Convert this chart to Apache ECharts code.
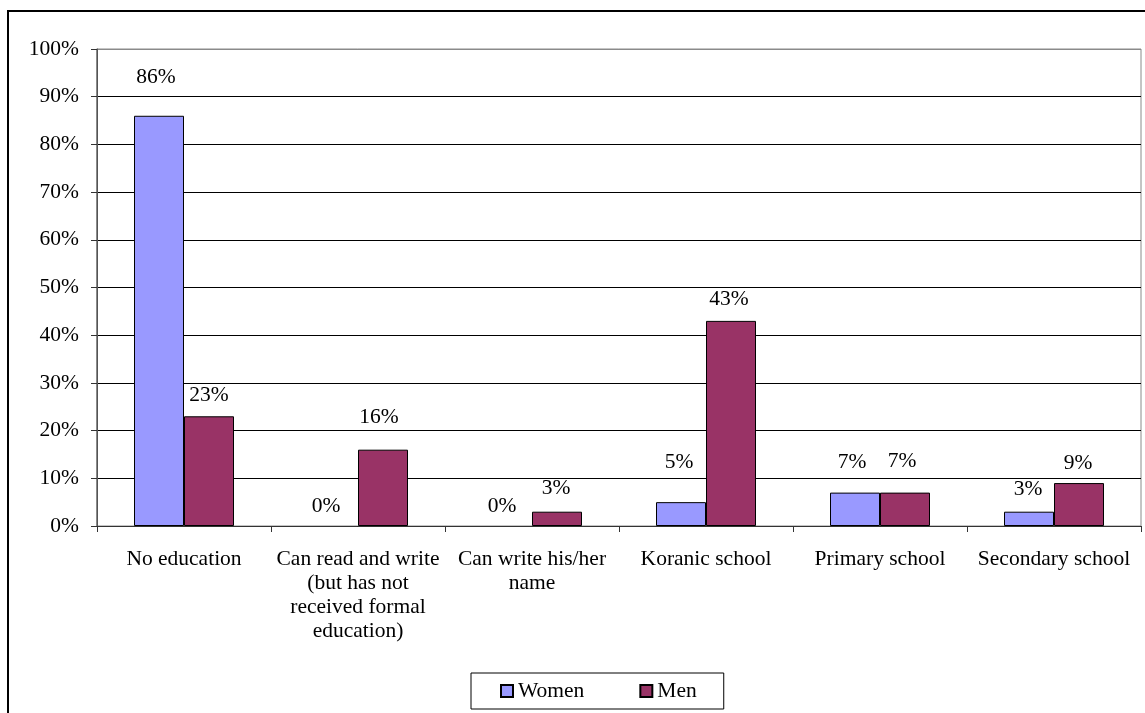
<!DOCTYPE html>
<html>
<head>
<meta charset="utf-8">
<script src="https://cdn.jsdelivr.net/npm/echarts@6/dist/echarts.min.js"></script>
<style>
html,body{margin:0;padding:0;background:#fff;}
#chart{width:1145px;height:713px;}
</style>
</head>
<body>
<div id="chart"></div>
<script>
const categories = [
  'No education',
  'Can read and write\n(but has not\nreceived formal\neducation)',
  'Can write his/her\nname',
  'Koranic school',
  'Primary school',
  'Secondary school'
];
const women = [86, 0, 0, 5, 7, 3];
const men = [23, 16, 3, 43, 7, 9];
const yTicks = [0, 10, 20, 30, 40, 50, 60, 70, 80, 90, 100];

// label placement tweaks (style only)
const womenLabelDist = [27, 9, 9, 29, 19, 11];
const menLabelDist = [10, 21, 12, 11, 20, 9];
const womenLabelDx = [-3, -7, -5, -2, -3, -1];
const menLabelDx = [0, -4, -1, -2, -3, -1];

const FONT = 'Liberation Serif';
const FS = 21.5;

function buildSeriesData(vals, dists, dxs) {
  return vals.map((v, i) => ({
    value: v,
    itemStyle: v === 0 ? { borderWidth: 0, borderColor: 'rgba(0,0,0,0)', color: 'rgba(0,0,0,0)' } : undefined,
    label: { distance: dists[i], offset: [dxs[i], 0] }
  }));
}

const chart = echarts.init(document.getElementById('chart'), null, { renderer: 'canvas' });
const labelStyle = {
  show: true, position: 'top', formatter: '{c}%',
  fontFamily: FONT, fontSize: FS, color: '#000'
};
chart.setOption({
  backgroundColor: '#fff',
  animation: false,
  textStyle: { fontFamily: FONT },
  graphic: [{
    type: 'rect', z: 100, silent: true,
    shape: { x: 8, y: 11, width: 2000, height: 2000 },
    style: { fill: 'none', stroke: '#000', lineWidth: 2 }
  }, {
    type: 'rect', z: 0, silent: true,
    shape: { x: 96.5, y: 49, width: 1044.5, height: 477 },
    style: { fill: 'none', stroke: '#8a8a8a', lineWidth: 1 }
  }],
  grid: { left: 97, right: 4, top: 49, bottom: 187, containLabel: false },
  legend: {
    data: ['Women', 'Men'],
    left: 471, top: 673,
    padding: [7, 27, 7, 29],
    borderColor: '#000', borderWidth: 1,
    itemWidth: 12, itemHeight: 12, itemGap: 55,
    icon: 'rect',
    textStyle: { fontFamily: FONT, fontSize: FS, color: '#000' }
  },
  xAxis: {
    type: 'category',
    data: categories,
    axisLine: { lineStyle: { color: '#333', width: 1 } },
    axisTick: { show: true, length: 6, lineStyle: { color: '#333' } },
    axisLabel: {
      fontFamily: FONT, fontSize: FS, color: '#000',
      margin: 21, lineHeight: 24, interval: 0, align: 'center'
    }
  },
  yAxis: {
    type: 'value', min: 0, max: 100, interval: 10,
    axisLine: { show: true, lineStyle: { color: '#555', width: 1 } },
    axisTick: { show: true, length: 6, lineStyle: { color: '#333' } },
    axisLabel: {
      fontFamily: FONT, fontSize: FS, color: '#000', margin: 18,
      formatter: v => yTicks.includes(v) ? v + '%' : ''
    },
    splitLine: { show: true, lineStyle: { color: ['#000','#000','#000','#000','#000','#000','#000','#000','#000','#000','#8a8a8a'], width: 1 } }
  },
  series: [{
    name: 'Women', type: 'bar',
    data: buildSeriesData(women, womenLabelDist, womenLabelDx),
    barWidth: 50, barGap: '0%',
    itemStyle: { color: '#9999FF', borderColor: '#000', borderWidth: 1 },
    label: labelStyle
  }, {
    name: 'Men', type: 'bar',
    data: buildSeriesData(men, menLabelDist, menLabelDx),
    barWidth: 50, barGap: '0%',
    itemStyle: { color: '#993366', borderColor: '#000', borderWidth: 1 },
    label: labelStyle
  }]
});
</script>
</body>
</html>
